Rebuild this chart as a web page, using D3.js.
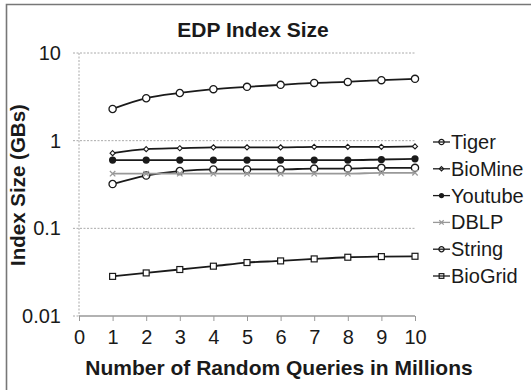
<!DOCTYPE html>
<html>
<head>
<meta charset="utf-8">
<script src="https://cdn.jsdelivr.net/npm/d3@7"></script>
<style>
  body { margin: 0; background: #fff; }
  svg { display: block; font-family: "Liberation Sans", Arial, sans-serif; }
</style>
</head>
<body>
<div id="chart"></div>
<script>
var queries = [1, 2, 3, 4, 5, 6, 7, 8, 9, 10];
var xTicks = [0, 1, 2, 3, 4, 5, 6, 7, 8, 9, 10];
var yTicks = [0.01, 0.1, 1, 10];
var yTickLabels = ['0.01', '0.1', '1', '10'];

var tiger = [2.3, 3.05, 3.5, 3.87, 4.11, 4.33, 4.56, 4.68, 4.9, 5.07];
var bioMine = [0.72, 0.8, 0.82, 0.84, 0.84, 0.84, 0.85, 0.85, 0.85, 0.86];
var youtube = [0.6, 0.6, 0.6, 0.6, 0.6, 0.6, 0.6, 0.6, 0.61, 0.62];
var dblp = [0.42, 0.42, 0.42, 0.42, 0.42, 0.42, 0.42, 0.42, 0.43, 0.43];
var string = [0.32, 0.4, 0.45, 0.47, 0.47, 0.47, 0.48, 0.48, 0.49, 0.49];
var bioGrid = [0.0283, 0.031, 0.0339, 0.037, 0.0407, 0.0425, 0.0448, 0.0468, 0.0476, 0.048];

var seriesNames = ['Tiger', 'BioMine', 'Youtube', 'DBLP', 'String', 'BioGrid'];
var seriesValues = [tiger, bioMine, youtube, dblp, string, bioGrid];
var seriesMarks = ['circle', 'diamond', 'dot', 'cross', 'circle', 'square'];
var seriesColors = ['#1a1a1a', '#1a1a1a', '#1a1a1a', '#999999', '#1a1a1a', '#1a1a1a'];

var width = 531, height = 390;
var x = d3.scaleLinear().domain([0, 10]).range([79, 415]);
var y = d3.scaleLog().domain([0.01, 10]).range([316, 53]);

var svg = d3.select('#chart').append('svg')
    .attr('width', width)
    .attr('height', height);

// frame, only top and left edges visible
svg.append('path')
    .attr('d', 'M6.5,' + height + 'V4.5H' + width)
    .attr('fill', 'none')
    .attr('stroke', '#777')
    .attr('stroke-width', 1.6);

svg.append('text')
    .attr('x', 253)
    .attr('y', 37)
    .attr('text-anchor', 'middle')
    .attr('font-size', 21)
    .attr('font-weight', 'bold')
    .attr('fill', '#1a1a1a')
    .text('EDP Index Size');

// horizontal grid
svg.append('g').selectAll('line')
    .data(yTicks.slice(1))
    .enter().append('line')
    .attr('x1', 73).attr('x2', x(10))
    .attr('y1', function (d) { return y(d); })
    .attr('y2', function (d) { return y(d); })
    .attr('stroke', '#aaa')
    .attr('stroke-dasharray', '2,1.5');

// y axis (dotted)
svg.append('line')
    .attr('x1', x(0)).attr('x2', x(0))
    .attr('y1', y(10)).attr('y2', y(0.01))
    .attr('stroke', '#aaa')
    .attr('stroke-dasharray', '2,1.5');

svg.append('line')
    .attr('x1', 73).attr('x2', x(0))
    .attr('y1', y(0.01)).attr('y2', y(0.01))
    .attr('stroke', '#aaa')
    .attr('stroke-dasharray', '2,1.5');

// x axis
var xAxis = d3.axisBottom(x).tickValues(xTicks).tickSize(5).tickPadding(9)
    .tickFormat(d3.format('d'));
var gx = svg.append('g')
    .attr('transform', 'translate(0,' + y(0.01) + ')')
    .call(xAxis);
gx.select('.domain').attr('stroke', '#999').attr('stroke-width', 1.3)
    .attr('d', 'M' + x(0) + ',0H' + x(10));
gx.selectAll('.tick line').attr('stroke', '#999');
gx.selectAll('.tick text')
    .attr('font-size', 20)
    .attr('font-family', '"Liberation Sans", Arial, sans-serif')
    .attr('fill', '#1a1a1a');

// y tick labels
svg.append('g').selectAll('text')
    .data(yTicks)
    .enter().append('text')
    .attr('x', 61)
    .attr('y', function (d) { return y(d) + 7; })
    .attr('text-anchor', 'end')
    .attr('font-size', 20)
    .attr('fill', '#1a1a1a')
    .text(function (d, i) { return yTickLabels[i]; });

svg.append('text')
    .attr('transform', 'translate(25,185) rotate(-90)')
    .attr('text-anchor', 'middle')
    .attr('font-size', 20.5)
    .attr('font-weight', 'bold')
    .attr('fill', '#1a1a1a')
    .text('Index Size (GBs)');

svg.append('text')
    .attr('x', 279)
    .attr('y', 375)
    .attr('text-anchor', 'middle')
    .attr('font-size', 21)
    .attr('font-weight', 'bold')
    .attr('fill', '#1a1a1a')
    .text('Number of Random Queries in Millions');

function drawMark(g, kind, color, s, fill) {
    if (kind === 'circle') {
        g.append('circle').attr('r', s).attr('fill', fill).attr('stroke', color).attr('stroke-width', 1.3);
    } else if (kind === 'dot') {
        g.append('circle').attr('r', s).attr('fill', color);
    } else if (kind === 'diamond') {
        var r = s * 0.85;
        g.append('path').attr('d', 'M0,' + (-r) + 'L' + r + ',0L0,' + r + 'L' + (-r) + ',0Z')
            .attr('fill', fill).attr('stroke', color).attr('stroke-width', 1.1);
    } else if (kind === 'square') {
        g.append('rect').attr('x', -s * 0.9).attr('y', -s * 0.9)
            .attr('width', s * 1.8).attr('height', s * 1.8)
            .attr('fill', fill).attr('stroke', color).attr('stroke-width', 1.2);
    } else if (kind === 'cross') {
        var c = s * 0.85;
        g.append('path').attr('d', 'M' + (-c) + ',' + (-c) + 'L' + c + ',' + c + 'M' + (-c) + ',' + c + 'L' + c + ',' + (-c))
            .attr('stroke', color).attr('stroke-width', 1.3);
    }
}

var line = d3.line()
    .x(function (d) { return x(d[0]); })
    .y(function (d) { return y(d[1]); })
    .curve(d3.curveMonotoneX);

// draw in reverse so Tiger ends up on top
for (var k = seriesNames.length - 1; k >= 0; k--) {
    var pts = queries.map(function (q, i) { return [q, seriesValues[k][i]]; });
    var g = svg.append('g');
    g.append('path')
        .datum(pts)
        .attr('d', line)
        .attr('fill', 'none')
        .attr('stroke', seriesColors[k])
        .attr('stroke-width', 1.8);
    var sizes = { circle: 3.6, dot: 3.6, diamond: 3, cross: 3.2, square: 3.3 };
    g.selectAll('.m')
        .data(pts)
        .enter().append('g')
        .attr('transform', function (d) { return 'translate(' + x(d[0]) + ',' + y(d[1]) + ')'; })
        .each(function () {
            drawMark(d3.select(this), seriesMarks[k], seriesColors[k], sizes[seriesMarks[k]], '#fff');
        });
}

// legend
var legend = svg.append('g').selectAll('g')
    .data(seriesNames)
    .enter().append('g')
    .attr('transform', function (d, i) { return 'translate(433,' + (142 + i * 26.8) + ')'; });
legend.append('line')
    .attr('x1', 0).attr('x2', 17)
    .attr('stroke', function (d, i) { return seriesColors[i]; })
    .attr('stroke-width', 1.3);
legend.each(function (d, i) {
    var m = d3.select(this).append('g').attr('transform', 'translate(8.5,0)');
    drawMark(m, seriesMarks[i], seriesColors[i], 2.6, 'none');
});
legend.append('text')
    .attr('x', 18)
    .attr('y', 7)
    .attr('font-size', 20)
    .attr('fill', '#1a1a1a')
    .text(function (d) { return d; });
</script>
</body>
</html>
